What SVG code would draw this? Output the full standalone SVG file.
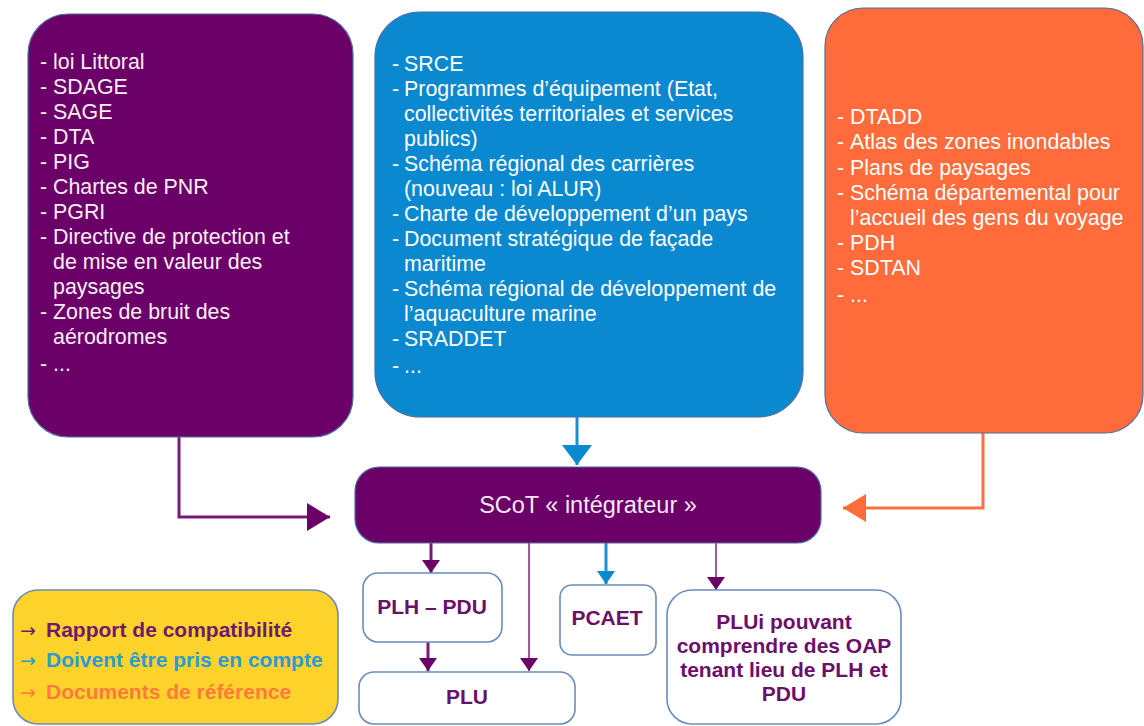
<svg xmlns="http://www.w3.org/2000/svg" width="1144" height="726" viewBox="0 0 1144 726">
<defs>
<style>
.big{font-family:"Liberation Sans",Arial,sans-serif;font-size:21.4px;fill:#ffffff}
.bp{fill:#f8eef6}
.box{stroke:#4f6f9f;stroke-width:1.2}
.wbox{fill:#ffffff;stroke:#6a8cbc;stroke-width:1.6}
.bt{font-family:"Liberation Sans",Arial,sans-serif;font-size:21px;font-weight:bold;fill:#6b0f6b;text-anchor:middle}
.lg{font-family:"Liberation Sans",Arial,sans-serif;font-size:21px;font-weight:bold}
.la{font-family:"DejaVu Sans",sans-serif;font-size:19px}
.cp{fill:none;stroke:#7a1a78;stroke-width:3}
.cpl{fill:none;stroke:#9a5c98;stroke-width:2}
.cb{fill:none;stroke:#1a8fd6;stroke-width:3}
.co{fill:none;stroke:#ff7040;stroke-width:3}
</style>
<marker id="hp" markerUnits="userSpaceOnUse" markerWidth="23" markerHeight="28" refX="23" refY="14" orient="auto"><path d="M0,0 L23,14 L0,28 z" fill="#6b0068"/></marker>
<marker id="ho" markerUnits="userSpaceOnUse" markerWidth="23" markerHeight="28" refX="23" refY="14" orient="auto"><path d="M0,0 L23,14 L0,28 z" fill="#ff6b3a"/></marker>
<marker id="hb" markerUnits="userSpaceOnUse" markerWidth="20" markerHeight="30" refX="20" refY="15" orient="auto"><path d="M0,0 L20,15 L0,30 z" fill="#0a88d0"/></marker>
<marker id="sp" markerUnits="userSpaceOnUse" markerWidth="13" markerHeight="18" refX="13" refY="9" orient="auto"><path d="M0,0 L13,9 L0,18 z" fill="#6b0068"/></marker>
<marker id="sb" markerUnits="userSpaceOnUse" markerWidth="13" markerHeight="18" refX="13" refY="9" orient="auto"><path d="M0,0 L13,9 L0,18 z" fill="#0a88d0"/></marker>
</defs>
<rect width="1144" height="726" fill="#ffffff"/>

<g id="connectors">
<path class="cp" d="M179,437 V517 H330" marker-end="url(#hp)"/>
<path class="co" d="M983,433 V508 H843" marker-end="url(#ho)"/>
<path class="cb" d="M577,417 V465" marker-end="url(#hb)"/>
<path class="cp" d="M431,543 V573" marker-end="url(#sp)"/>
<path class="cpl" d="M529,543 V671" marker-end="url(#sp)"/>
<path class="cb" d="M606,543 V584" marker-end="url(#sb)"/>
<path class="cpl" d="M716,543 V590" marker-end="url(#sp)"/>
<path class="cp" d="M428,642 V671" marker-end="url(#sp)"/>
</g>

<g id="node-compatibilite">
<rect class="box" x="28" y="14" width="325" height="423" rx="40" fill="#6b0068"/>
<g class="big bp">
<text x="40" y="69">-</text><text x="53" y="69">loi Littoral</text>
<text x="40" y="94">-</text><text x="53" y="94">SDAGE</text>
<text x="40" y="119">-</text><text x="53" y="119">SAGE</text>
<text x="40" y="144">-</text><text x="53" y="144">DTA</text>
<text x="40" y="169">-</text><text x="53" y="169">PIG</text>
<text x="40" y="194">-</text><text x="53" y="194">Chartes de PNR</text>
<text x="40" y="219">-</text><text x="53" y="219">PGRI</text>
<text x="40" y="244">-</text><text x="53" y="244">Directive de protection et</text>
<text x="53" y="269">de mise en valeur des</text>
<text x="53" y="294">paysages</text>
<text x="40" y="319">-</text><text x="53" y="319">Zones de bruit des</text>
<text x="53" y="344">aérodromes</text>
<text x="40" y="371">-</text><text x="53" y="371">...</text>
</g>
</g>

<g id="node-prise-en-compte">
<rect class="box" x="375" y="12" width="428" height="405" rx="45" fill="#0a88d0"/>
<g class="big">
<text x="392" y="71">-</text><text x="404" y="71">SRCE</text>
<text x="392" y="96">-</text><text x="404" y="96">Programmes d’équipement (Etat,</text>
<text x="404" y="121">collectivités territoriales et services</text>
<text x="404" y="146">publics)</text>
<text x="392" y="171">-</text><text x="404" y="171">Schéma régional des carrières</text>
<text x="404" y="196">(nouveau : loi ALUR)</text>
<text x="392" y="221">-</text><text x="404" y="221">Charte de développement d’un pays</text>
<text x="392" y="246">-</text><text x="404" y="246">Document stratégique de façade</text>
<text x="404" y="271">maritime</text>
<text x="392" y="296">-</text><text x="404" y="296">Schéma régional de développement de</text>
<text x="404" y="321">l’aquaculture marine</text>
<text x="392" y="346">-</text><text x="404" y="346">SRADDET</text>
<text x="392" y="373">-</text><text x="404" y="373">...</text>
</g>
</g>

<g id="node-reference">
<rect class="box" x="825" y="8" width="318" height="425" rx="38" fill="#ff6b3a"/>
<g class="big">
<text x="837" y="124">-</text><text x="850" y="124">DTADD</text>
<text x="837" y="149">-</text><text x="850" y="149">Atlas des zones inondables</text>
<text x="837" y="175">-</text><text x="850" y="175">Plans de paysages</text>
<text x="837" y="200">-</text><text x="850" y="200">Schéma départemental pour</text>
<text x="850" y="225">l’accueil des gens du voyage</text>
<text x="837" y="250">-</text><text x="850" y="250">PDH</text>
<text x="837" y="275">-</text><text x="850" y="275">SDTAN</text>
<text x="837" y="302">-</text><text x="850" y="302">...</text>
</g>
</g>

<g id="node-scot">
<rect class="box" x="355" y="467" width="466" height="76" rx="24" fill="#6b0068"/>
<text x="588" y="513" font-family="'Liberation Sans',Arial,sans-serif" font-size="23.5" fill="#f6e8f4" text-anchor="middle">SCoT « intégrateur »</text>
</g>

<g id="node-plh-pdu">
<rect class="wbox" x="363" y="573" width="139" height="69" rx="15"/>
<text class="bt" x="432" y="614">PLH – PDU</text>
</g>

<g id="node-plu">
<rect class="wbox" x="359" y="672" width="216" height="52" rx="15"/>
<text class="bt" x="467" y="704">PLU</text>
</g>

<g id="node-pcaet">
<rect class="wbox" x="560" y="585" width="96" height="70" rx="12"/>
<text class="bt" x="607" y="625">PCAET</text>
</g>

<g id="node-plui">
<rect class="wbox" x="667" y="590" width="234" height="134" rx="25"/>
<text class="bt" x="784" y="629">PLUi pouvant</text>
<text class="bt" x="784" y="653">comprendre des OAP</text>
<text class="bt" x="784" y="677">tenant lieu de PLH et</text>
<text class="bt" x="784" y="701">PDU</text>
</g>

<g id="legend">
<rect x="13" y="590" width="325" height="134" rx="25" fill="#fdd32b" stroke="#6a8cbc" stroke-width="1.6"/>
<text class="la" x="20" y="637" fill="#6e1a6e">→</text><text class="lg" x="46" y="637" fill="#6e1a6e">Rapport de compatibilité</text>
<text class="la" x="20" y="667" fill="#2c9bd3">→</text><text class="lg" x="46" y="667" fill="#2c9bd3">Doivent être pris en compte</text>
<text class="la" x="20" y="699" fill="#ff7a3c">→</text><text class="lg" x="46" y="699" fill="#ff7a3c">Documents de référence</text>
</g>
</svg>
